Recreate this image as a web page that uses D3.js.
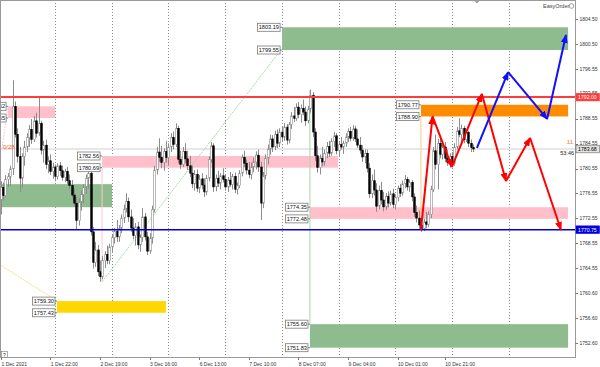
<!DOCTYPE html>
<html>
<head>
<meta charset="utf-8">
<script src="https://cdn.jsdelivr.net/npm/d3@7/dist/d3.min.js"></script>
<style>
  body { margin: 0; background: #fff; }
  svg { display: block; }
  text { font-family: "Liberation Sans", Arial, sans-serif; }
</style>
</head>
<body>
<div id="chart"></div>
<script>
// H1 bars, index 0 = 1 Dec 2021 00:00
const firstBar = 1;
// [open, high, low, close]
const candles = [
  [1775.5,1778.5,1773.2,1777.5],[1777.5,1778.3,1775.4,1776.2],[1776.2,1779.5,1775.9,1778.8],[1778.8,1779.8,1777.6,1779.3],
  [1779.3,1781.0,1777.8,1780.5],[1780.5,1794.7,1779.5,1790.5],[1790.5,1791.3,1785.5,1786.0],[1786.0,1787.0,1781.5,1782.5],
  [1782.5,1784.0,1776.8,1779.0],[1779.0,1783.0,1777.5,1782.5],[1782.5,1785.0,1781.0,1784.0],[1784.0,1786.2,1783.2,1785.5],
  [1785.5,1787.5,1784.0,1786.8],[1786.8,1788.5,1784.5,1785.2],[1785.2,1789.0,1784.8,1788.2],[1788.2,1789.5,1785.5,1786.2],
  [1786.2,1792.0,1785.8,1787.8],[1787.8,1788.2,1782.8,1783.5],[1783.5,1785.0,1781.5,1784.3],[1784.3,1785.2,1780.5,1781.2],
  [1781.2,1782.5,1779.8,1781.8],[1781.8,1782.8,1779.5,1780.1],[1780.1,1781.5,1778.9,1780.8],[1780.8,1781.2,1778.5,1779.3],
  [1779.3,1781.4,1778.8,1781.0],[1781.0,1781.6,1779.4,1780.2],[1780.2,1781.0,1778.6,1779.1],[1779.1,1780.5,1778.4,1780.1],
  [1780.1,1780.8,1778.0,1778.6],[1778.6,1779.6,1777.2,1777.8],[1777.8,1778.7,1775.8,1776.3],[1776.3,1777.4,1774.5,1775.0],
  [1775.0,1776.0,1770.7,1772.2],[1772.2,1775.8,1771.4,1775.2],[1775.2,1777.0,1773.8,1776.4],[1776.4,1778.0,1775.0,1777.6],
  [1777.6,1779.6,1776.5,1779.0],[1779.0,1780.8,1777.3,1779.8],[1779.8,1780.3,1769.8,1770.4],[1770.4,1771.2,1764.5,1765.5],
  [1765.5,1768.8,1764.8,1767.5],[1767.5,1768.3,1763.3,1764.0],[1764.0,1765.8,1762.4,1763.2],[1763.2,1766.5,1762.8,1765.8],
  [1765.8,1767.3,1764.6,1766.8],[1766.8,1768.2,1765.2,1765.8],[1765.8,1768.5,1765.2,1768.0],[1768.0,1770.0,1767.2,1769.5],
  [1769.5,1771.0,1768.5,1770.5],[1770.5,1772.3,1768.8,1769.6],[1769.6,1771.5,1768.8,1771.0],[1771.0,1773.2,1770.2,1772.6],
  [1772.6,1774.8,1771.8,1774.1],[1774.1,1776.6,1773.5,1775.3],[1775.3,1775.9,1772.0,1772.8],[1772.8,1774.0,1770.4,1771.0],
  [1771.0,1772.6,1769.2,1769.8],[1769.8,1771.8,1768.2,1771.2],[1771.2,1772.0,1767.6,1768.3],[1768.3,1770.0,1767.2,1769.5],
  [1769.5,1774.2,1768.8,1772.8],[1772.8,1773.4,1769.0,1769.6],[1769.6,1770.4,1766.7,1767.3],[1767.3,1770.2,1766.9,1769.4],
  [1769.4,1774.6,1768.5,1774.0],[1774.0,1781.0,1773.5,1780.3],[1780.3,1784.0,1779.6,1783.2],[1783.2,1785.4,1781.6,1782.3],
  [1782.3,1784.2,1780.6,1781.5],[1781.5,1783.8,1780.2,1783.3],[1783.3,1785.0,1781.5,1782.3],[1782.3,1784.6,1781.0,1784.0],
  [1784.0,1786.2,1783.2,1785.5],[1785.5,1786.5,1783.6,1784.4],[1784.4,1787.8,1784.0,1787.0],[1787.0,1787.4,1781.4,1782.0],
  [1782.0,1783.4,1780.5,1781.2],[1781.2,1784.0,1780.8,1783.3],[1783.3,1784.6,1781.4,1782.1],[1782.1,1783.4,1780.3,1781.0],
  [1781.0,1782.6,1779.2,1779.8],[1779.8,1781.0,1777.4,1778.1],[1778.1,1780.3,1777.0,1779.6],[1779.6,1780.4,1776.8,1777.4],
  [1777.4,1779.5,1776.6,1778.9],[1778.9,1779.8,1777.2,1777.9],[1777.9,1779.0,1776.0,1776.8],[1776.8,1779.5,1776.3,1779.0],
  [1779.0,1782.5,1778.5,1782.0],[1782.0,1784.8,1781.5,1784.2],[1784.2,1784.6,1776.8,1777.6],[1777.6,1779.6,1776.9,1779.0],
  [1779.0,1780.2,1777.6,1778.2],[1778.2,1779.8,1777.2,1779.4],[1779.4,1780.6,1778.3,1778.8],[1778.8,1779.6,1777.0,1777.6],
  [1777.6,1779.2,1776.8,1778.7],[1778.7,1780.0,1777.6,1778.0],[1778.0,1779.7,1777.2,1779.3],[1779.3,1779.9,1776.6,1777.2],
  [1777.2,1778.3,1776.4,1777.8],[1777.8,1780.3,1777.4,1779.8],[1779.8,1782.8,1779.3,1782.3],[1782.3,1783.4,1780.8,1781.4],
  [1781.4,1782.0,1779.6,1780.3],[1780.3,1781.6,1779.0,1779.6],[1779.6,1781.5,1778.8,1780.8],[1780.8,1782.3,1780.0,1781.6],
  [1781.6,1783.3,1780.4,1782.7],[1782.7,1783.6,1780.0,1780.8],[1780.8,1781.6,1772.3,1775.0],[1775.0,1780.0,1774.2,1779.4],
  [1779.4,1782.8,1778.8,1782.2],[1782.2,1784.4,1781.2,1783.7],[1783.7,1786.0,1782.8,1785.3],[1785.3,1785.9,1783.2,1784.0],
  [1784.0,1786.6,1783.5,1786.0],[1786.0,1786.8,1783.8,1784.6],[1784.6,1787.0,1784.0,1786.4],[1786.4,1787.2,1784.9,1785.6],
  [1785.6,1787.8,1785.0,1787.2],[1787.2,1787.7,1784.4,1785.1],[1785.1,1788.0,1784.6,1787.6],[1787.6,1789.6,1786.9,1789.0],
  [1789.0,1790.4,1788.0,1788.6],[1788.6,1791.0,1788.2,1790.4],[1790.4,1791.2,1788.6,1789.2],[1789.2,1790.8,1787.9,1790.2],
  [1790.2,1791.6,1789.1,1789.6],[1789.6,1790.5,1787.4,1788.2],[1788.2,1790.6,1787.8,1790.1],[1790.1,1793.2,1789.5,1792.3],
  [1792.3,1792.8,1785.6,1786.4],[1786.4,1787.0,1781.8,1782.6],[1782.6,1784.2,1779.9,1780.7],[1780.7,1782.8,1779.6,1782.2],
  [1782.2,1784.0,1780.9,1781.6],[1781.6,1783.6,1781.0,1783.0],[1783.0,1784.8,1782.2,1784.1],[1784.1,1785.0,1782.4,1783.0],
  [1783.0,1785.4,1782.6,1784.9],[1784.9,1786.4,1784.0,1785.8],[1785.8,1786.2,1782.8,1783.4],[1783.4,1784.9,1782.5,1784.4],
  [1784.4,1785.6,1783.6,1784.0],[1784.0,1785.0,1782.9,1784.6],[1784.6,1786.2,1784.0,1785.6],[1785.6,1787.0,1784.8,1786.5],
  [1786.5,1787.2,1784.9,1785.4],[1785.4,1787.5,1785.0,1786.9],[1786.9,1787.4,1784.8,1785.3],[1785.3,1786.8,1783.8,1784.3],
  [1784.3,1785.6,1782.9,1783.5],[1783.5,1784.3,1781.6,1782.4],[1782.4,1783.6,1781.4,1783.0],[1783.0,1783.6,1779.9,1780.6],
  [1780.6,1781.4,1775.8,1776.5],[1776.5,1779.6,1775.8,1778.6],[1778.6,1780.4,1776.2,1777.1],[1777.1,1778.2,1773.6,1774.5],
  [1774.5,1777.8,1774.0,1777.0],[1777.0,1778.4,1774.8,1775.5],[1775.5,1776.8,1773.7,1774.4],[1774.4,1776.6,1773.9,1776.1],
  [1776.1,1776.9,1774.3,1775.0],[1775.0,1777.0,1774.6,1776.5],[1776.5,1777.3,1774.2,1774.8],[1774.8,1776.4,1774.0,1775.9],
  [1775.9,1777.8,1775.3,1777.4],[1777.4,1778.1,1776.0,1776.6],[1776.6,1778.6,1776.2,1778.1],[1778.1,1779.5,1777.4,1778.8],
  [1778.8,1779.2,1777.0,1777.6],[1777.6,1778.8,1776.8,1778.3],[1778.3,1778.7,1775.3,1776.0],[1776.0,1776.6,1772.8,1773.5],
  [1773.5,1774.6,1771.9,1772.6],[1772.6,1773.8,1770.9,1771.5],[1771.5,1772.6,1770.4,1770.9],[1770.9,1772.5,1770.5,1772.0],
  [1772.0,1773.6,1771.0,1771.6],[1771.6,1773.7,1771.2,1773.2],[1773.2,1777.8,1772.6,1777.2],[1777.2,1784.0,1776.8,1783.4],
  [1783.4,1786.0,1780.4,1781.2],[1781.2,1785.3,1777.2,1784.6],[1784.6,1785.4,1782.2,1782.8],[1782.8,1784.6,1782.0,1784.0],
  [1784.0,1784.8,1781.6,1782.2],[1782.2,1783.6,1781.0,1781.5],[1781.5,1783.0,1780.7,1782.5],[1782.5,1783.2,1780.8,1781.4],
  [1781.4,1784.6,1781.0,1784.0],[1784.0,1787.2,1783.6,1786.6],[1786.6,1788.6,1785.6,1786.0],[1786.0,1787.6,1784.6,1787.0],
  [1787.0,1787.4,1784.6,1785.2],[1785.2,1786.8,1784.8,1786.3],[1786.3,1786.6,1784.0,1784.6],[1784.6,1785.2,1783.2,1783.9],
  [1783.9,1784.4,1783.2,1783.68]
];

const priceTicks = [1804.50, 1800.50, 1796.55, 1792.55, 1788.55, 1784.55, 1780.55, 1776.55,
                    1772.55, 1768.55, 1764.55, 1760.60, 1756.60, 1752.60];
const timeBars = [0, 22, 43, 64, 85, 106, 127, 148, 169, 189];
const timeLabels = ["1 Dec 2021", "1 Dec 22:00", "2 Dec 19:00", "3 Dec 16:00", "6 Dec 13:00",
                    "7 Dec 10:00", "8 Dec 07:00", "9 Dec 04:00", "10 Dec 01:00", "10 Dec 21:00"];
const separators = [24, 48, 72, 96, 120, 144, 168, 192, 216];

// zones: [from bar, to bar, top price, bottom price, kind, price tags shown]
const zones = [
  [4.1, 24, 1790.52, 1788.65, "pink", true],
  [-12, 48.1, 1778.05, 1774.35, "green", false],
  [43.9, 143.8, 1782.56, 1780.69, "pink", true],
  [24.8, 70.9, 1759.30, 1757.43, "gold", true],
  [120.1, 241.2, 1803.19, 1799.55, "green", true],
  [131.9, 241.2, 1774.35, 1772.48, "pink", true],
  [131.9, 241.2, 1755.60, 1751.83, "green", true],
  [178.9, 241.2, 1790.77, 1788.90, "orange", true]
];

const resistance = 1792.00;
const support = 1770.75;
const bid = 1783.68;

// projected paths [bar, price]
const redPath = [[178.9, 1770.75], [183.8, 1788.9], [192.0, 1780.8], [204.7, 1792.5],
                 [214.9, 1778.55], [225.1, 1785.45], [238.2, 1770.7]];
const bluePath = [[202.6, 1783.85], [215.8, 1796.0], [232.3, 1788.5], [240.3, 1801.95]];

// thin helper lines [[bar, price], [bar, price], kind]
const thinLines = [
  [[43.9, 1762.4], [119.6, 1799.55], "green"],
  [[0.7, 1765.1], [24.6, 1759.4], "gold"],
  [[1.5, 1783.7], [4.1, 1790.5], "pink"],
  [[43.9, 1780.69], [43.9, 1762.4], "pink"],
  [[131.9, 1793.1], [131.9, 1755.6], "green"],
  [[178.9, 1788.9], [178.9, 1770.75], "orange"]
];

document.addEventListener("DOMContentLoaded", function() {
  const width = 600, height = 367;
  const plotW = 575, plotH = 357;

  const zoneFill = { pink: "#ffc0cb", green: "#8fbc8f", gold: "#ffd700", orange: "#ff8c00" };
  const thinColor = { green: "#a9d8a9", gold: "#f5dd7a", pink: "#ffc8d2", orange: "#ffc58a" };

  const x = d3.scaleLinear().domain([0, 240]).range([-1.6, -1.6 + 240 * 2.362]);
  const y = d3.scaleLinear().domain([1751.83, 1803.19]).range([347.7, 27.3]);

  const svg = d3.select("#chart").append("svg")
    .attr("width", width).attr("height", height);

  svg.append("defs").append("clipPath").attr("id", "plot")
    .append("rect").attr("width", plotW).attr("height", plotH);

  // arrow heads
  [["arrRed", "#ff0000"], ["arrBlue", "#1010ff"]].forEach(([id, col]) => {
    svg.select("defs").append("marker")
      .attr("id", id).attr("markerUnits", "userSpaceOnUse")
      .attr("markerWidth", 9).attr("markerHeight", 7)
      .attr("refX", 8).attr("refY", 3.5).attr("orient", "auto")
      .append("path").attr("d", "M0,0 L9,3.5 L0,7 z").attr("fill", col);
  });

  const plot = svg.append("g").attr("clip-path", "url(#plot)");

  // day separators
  plot.selectAll(".sep").data(separators).enter().append("line")
    .attr("x1", d => Math.round(x(d)) + 0.5).attr("x2", d => Math.round(x(d)) + 0.5)
    .attr("y1", 0).attr("y2", plotH)
    .attr("stroke", "#8a8a8a").attr("stroke-width", 1).attr("stroke-dasharray", "1,2");

  // bid line
  plot.append("line")
    .attr("x1", 0).attr("x2", plotW).attr("y1", y(bid)).attr("y2", y(bid))
    .attr("stroke", "#cfcfcf").attr("stroke-width", 1);

  // zones
  plot.selectAll(".zone").data(zones).enter().append("rect")
    .attr("x", d => x(d[0])).attr("width", d => x(d[1]) - x(d[0]))
    .attr("y", d => y(d[2])).attr("height", d => y(d[3]) - y(d[2]))
    .attr("fill", d => zoneFill[d[4]]);

  // thin helper lines
  plot.selectAll(".thin").data(thinLines).enter().append("line")
    .attr("x1", d => x(d[0][0])).attr("y1", d => y(d[0][1]))
    .attr("x2", d => x(d[1][0])).attr("y2", d => y(d[1][1]))
    .attr("stroke", d => thinColor[d[2]]).attr("stroke-width", 1)
    .attr("stroke-dasharray", d => d[0][0] === d[1][0] ? null : "2,1");

  // candles
  const bars = plot.selectAll(".bar").data(candles).enter().append("g");
  bars.append("line")
    .attr("x1", (d, k) => Math.round(x(firstBar + k)) + 0.5)
    .attr("x2", (d, k) => Math.round(x(firstBar + k)) + 0.5)
    .attr("y1", d => y(d[1])).attr("y2", d => y(d[2]))
    .attr("stroke", "#8c8c8c").attr("stroke-width", 1);
  bars.append("rect")
    .attr("x", (d, k) => Math.round(x(firstBar + k)) - 0.3)
    .attr("width", 1.6)
    .attr("y", d => y(Math.max(d[0], d[3])))
    .attr("height", d => Math.max(0.8, Math.abs(y(d[0]) - y(d[3]))))
    .attr("fill", d => d[3] < d[0] ? "#000" : "#fff")
    .attr("stroke", d => d[3] < d[0] ? "#000" : "#8c8c8c")
    .attr("stroke-width", 0.6);

  // resistance / support
  plot.append("line")
    .attr("x1", 0).attr("x2", plotW).attr("y1", y(resistance)).attr("y2", y(resistance))
    .attr("stroke", "#ff3c3c").attr("stroke-width", 2);
  plot.append("line")
    .attr("x1", 0).attr("x2", plotW).attr("y1", y(support)).attr("y2", y(support))
    .attr("stroke", "#0000e0").attr("stroke-width", 1.5);

  // projection arrows
  const drawPath = (pts, col, marker) => {
    plot.selectAll(null).data(d3.pairs(pts)).enter().append("line")
      .attr("x1", d => x(d[0][0])).attr("y1", d => y(d[0][1]))
      .attr("x2", d => x(d[1][0])).attr("y2", d => y(d[1][1]))
      .attr("stroke", col).attr("stroke-width", 2)
      .attr("marker-end", `url(#${marker})`);
  };
  drawPath(redPath, "#ff0000", "arrRed");
  drawPath(bluePath, "#1010ff", "arrBlue");

  // zone price tags, drawn inside the plot so the left ones are clipped like the terminal does
  const zoneLabels = [];
  zones.filter(z => z[5]).forEach(z => { zoneLabels.push([z[0], z[2]]); zoneLabels.push([z[0], z[3]]); });
  const zl = plot.selectAll(".zl").data(zoneLabels).enter().append("g")
    .attr("transform", d => `translate(${x(d[0]) - 1},${y(d[1])})`);
  zl.append("rect").attr("x", -23.5).attr("y", -4).attr("width", 22.5).attr("height", 8)
    .attr("fill", "#fff").attr("stroke", "#7a7a7a").attr("stroke-width", 0.8);
  zl.append("line").attr("x1", -1).attr("x2", 1).attr("y1", 0).attr("y2", 0)
    .attr("stroke", "#7a7a7a");
  zl.append("text").attr("x", -12.2).attr("y", 2.1).attr("text-anchor", "middle")
    .attr("font-size", 5.6).attr("fill", "#111")
    .text(d => d[1].toFixed(2));

  // frame and axes
  svg.append("rect").attr("x", 0.5).attr("y", 0.5).attr("width", plotW).attr("height", plotH)
    .attr("fill", "none").attr("stroke", "#9a9a9a");

  const yAxis = svg.append("g");
  priceTicks.forEach(v => {
    yAxis.append("line").attr("x1", plotW + 0.5).attr("x2", plotW + 3)
      .attr("y1", Math.round(y(v)) + 0.5).attr("y2", Math.round(y(v)) + 0.5).attr("stroke", "#777");
    yAxis.append("text").attr("x", plotW + 4.5).attr("y", y(v) + 1.8)
      .attr("font-size", 5).attr("fill", "#333").text(v.toFixed(2));
  });

  const xAxis = svg.append("g");
  timeBars.forEach((b, k) => {
    const px = Math.max(1, x(b));
    xAxis.append("line").attr("x1", Math.round(px) + 0.5).attr("x2", Math.round(px) + 0.5)
      .attr("y1", plotH + 0.5).attr("y2", plotH + 3).attr("stroke", "#777");
    xAxis.append("text").attr("x", px + 0.5).attr("y", 365.5)
      .attr("font-size", 5).attr("fill", "#333").text(timeLabels[k]);
  });

  // price boxes on the right axis
  const boxes = [[resistance, "#ff3c3c", "#fff"], [support, "#0000e0", "#fff"], [bid, "#e4e4e4", "#000"]];
  boxes.forEach(([v, bg, fg]) => {
    svg.append("rect").attr("x", plotW + 1).attr("y", y(v) - 3.8).attr("width", 23.5).attr("height", 7.6)
      .attr("fill", bg).attr("stroke", bg === "#e4e4e4" ? "#666" : bg).attr("stroke-width", 0.6);
    svg.append("text").attr("x", plotW + 3).attr("y", y(v) + 1.9)
      .attr("font-size", 5.2).attr("fill", fg).text(v.toFixed(2));
  });

  // chart furniture
  svg.append("text").attr("x", 543).attr("y", 8).attr("font-size", 5.5).attr("fill", "#444").text("EasyOrder");
  svg.append("circle").attr("cx", 571.5).attr("cy", 6).attr("r", 2.3)
    .attr("fill", "none").attr("stroke", "#777").attr("stroke-width", 0.7);
  svg.append("path").attr("d", "M474,0.5 L480,0.5 L477,3.5 z").attr("fill", "#a0a0a0");
  svg.append("text").attr("x", 3).attr("y", 149).attr("font-size", 6).attr("fill", "#ff5a1e").text("0/28");
  svg.append("text").attr("x", 573).attr("y", 144).attr("text-anchor", "end")
    .attr("font-size", 6).attr("fill", "#ff7a30").text("11");
  svg.append("text").attr("x", 574).attr("y", 155).attr("text-anchor", "end")
    .attr("font-size", 5.5).attr("fill", "#222").text("53:46");
  svg.append("rect").attr("x", 1.5).attr("y", 351.5).attr("width", 6).attr("height", 6)
    .attr("fill", "#fff").attr("stroke", "#777").attr("stroke-width", 0.6);
  svg.append("text").attr("x", 4.5).attr("y", 356.5).attr("text-anchor", "middle")
    .attr("font-size", 5).attr("fill", "#333").text("?");
});
</script>
</body>
</html>
